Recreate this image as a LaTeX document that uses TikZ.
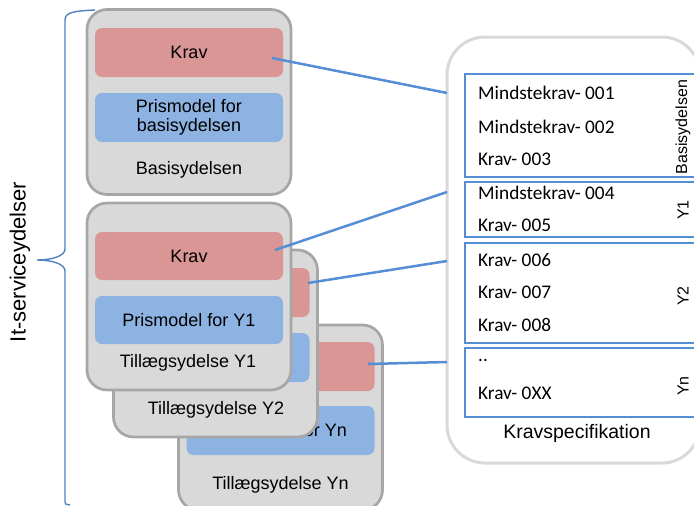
\documentclass[tikz,border=0pt]{standalone}
\usepackage{fontspec}
\setmainfont{Liberation Sans}
\newfontfamily\calfont{Carlito}
\definecolor{boxgray}{HTML}{D9D9D9}
\definecolor{boxborder}{HTML}{A6A6A6}
\definecolor{kravred}{HTML}{D99694}
\definecolor{prisblue}{HTML}{8DB3E2}
\definecolor{linkblue}{HTML}{558ED5}
\definecolor{bracecol}{HTML}{4F81BD}
\definecolor{panelgray}{HTML}{D9D9D9}
\tikzset{
  ydelse/.style={draw=boxborder, fill=boxgray, line width=2.7pt, rounded corners=20pt,
    minimum width=204pt, minimum height=185pt, inner sep=0pt},
  kravbox/.style={fill=kravred, rounded corners=7pt, minimum width=188pt, minimum height=49pt,
    inner sep=0pt, font=\fontsize{18}{19.5}\selectfont},
  prisbox/.style={fill=prisblue, rounded corners=7pt, minimum width=188pt, minimum height=49pt,
    inner sep=0pt, align=center, font=\fontsize{18}{19.5}\selectfont},
  ytitle/.style={font=\fontsize{18}{20}\selectfont, inner sep=0pt},
  panel/.style={draw=panelgray, fill=white, line width=3pt, rounded corners=38pt, inner sep=0pt},
  grp/.style={draw=linkblue, fill=white, line width=2.8pt, inner sep=0pt},
  item/.style={font=\calfont\fontsize{19.3}{21}\selectfont, anchor=west, inner sep=0pt},
  side/.style={font=\fontsize{16}{18}\selectfont, rotate=90, inner sep=0pt},
  link/.style={draw=linkblue, line width=2.5pt},
  bracestyle/.style={draw=bracecol, line width=1.4pt},
}
\begin{document}
\begin{tikzpicture}[x=1pt,y=-1pt]
\useasboundingbox (0,0) rectangle (694,506);
\clip (0,0) rectangle (694,506);

% brace and label
\draw[bracestyle] (95,10) .. controls (75,11) and (65,12) .. (65,20) -- (65,249)
  .. controls (65,256) and (52,260) .. (37,260)
  .. controls (52,260) and (65,264) .. (65,271) -- (65,502) .. controls (65,504) .. (70,505);
\node[rotate=90, font=\fontsize{22}{24}\selectfont, inner sep=0pt] (lbl) at (20,262) {It-serviceydelser};

% Yn
\node[ydelse] (yn) at (280.5,417.5) {};
\node[kravbox] (ynkrav) at (280.5,366.5) {};
\node[prisbox] (ynpris) at (280.5,430.5) {Prismodel for Yn};
\node[ytitle] (yntitle) at (280.5,485) {Tillægsydelse Yn};

% Y2
\node[ydelse, minimum height=187pt] (y2) at (215.5,343.5) {};
\node[kravbox] (y2krav) at (215.5,292.5) {};
\node[prisbox] (y2pris) at (215.5,357.5) {};
\node[ytitle] (y2title) at (216,410) {Tillægsydelse Y2};

% Y1
\node[ydelse, minimum height=187pt] (y1) at (189,296.5) {};
\node[kravbox, minimum height=48pt] (y1krav) at (189,256) {Krav};
\node[prisbox, minimum height=48pt] (y1pris) at (189,320) {Prismodel for Y1};
\node[ytitle] (y1title) at (188,363) {Tillægsydelse Y1};

% Basis
\node[ydelse] (basis) at (189,102) {};
\node[kravbox] (bkrav) at (189,52.5) {Krav};
\node[prisbox] (bpris) at (189,117.5) {Prismodel for\\basisydelsen};
\node[ytitle] (btitle) at (189,170) {Basisydelsen};

% right panel
\node[panel, minimum width=253pt, minimum height=426pt] (spec) at (573.5,250) {};
\node[grp, minimum width=245pt, minimum height=103pt] (gb) at (587.5,125.5) {};
\node[grp, minimum width=245pt, minimum height=55pt] (g1) at (587.5,209.5) {};
\node[grp, minimum width=245pt, minimum height=100pt] (g2) at (587.5,293) {};
\node[grp, minimum width=245pt, minimum height=69pt] (gn) at (587.5,382.5) {};

\node[item] (i1) at (478,93) {Mindstekrav- 001};
\node[item] (i2) at (478,127) {Mindstekrav- 002};
\node[item] (i3) at (478,159) {Krav- 003};
\node[item] (i4) at (478,193) {Mindstekrav- 004};
\node[item] (i5) at (478,225) {Krav- 005};
\node[item] (i6) at (478,260) {Krav- 006};
\node[item] (i7) at (478,292) {Krav- 007};
\node[item] (i8) at (478,325) {Krav- 008};
\node[item] (i9) at (478,360) {..};
\node[item] (i10) at (478,393) {Krav- 0XX};

\node[side] (sb) at (683,127) {Basisydelsen};
\node[side] (s1) at (683,210) {Y1};
\node[side] (s2) at (683,296) {Y2};
\node[side] (sn) at (683,386) {Yn};

\node[font=\fontsize{19.5}{21}\selectfont, inner sep=0pt] (kspec) at (577,433) {Kravspecifikation};

% connectors
\coordinate (bs) at (272,58);
\coordinate (be) at (447,93);
\coordinate (y1s) at (275,250);
\coordinate (y1e) at (447,192);
\coordinate (y2s) at (308,283);
\coordinate (y2e) at (447,261);
\coordinate (yns) at (368,364);
\coordinate (yne) at (447,362);
\draw[link] (bs) -- (be);
\draw[link] (y1s) -- (y1e);
\draw[link] (y2s) -- (y2e);
\draw[link] (yns) -- (yne);
\end{tikzpicture}
\end{document}
